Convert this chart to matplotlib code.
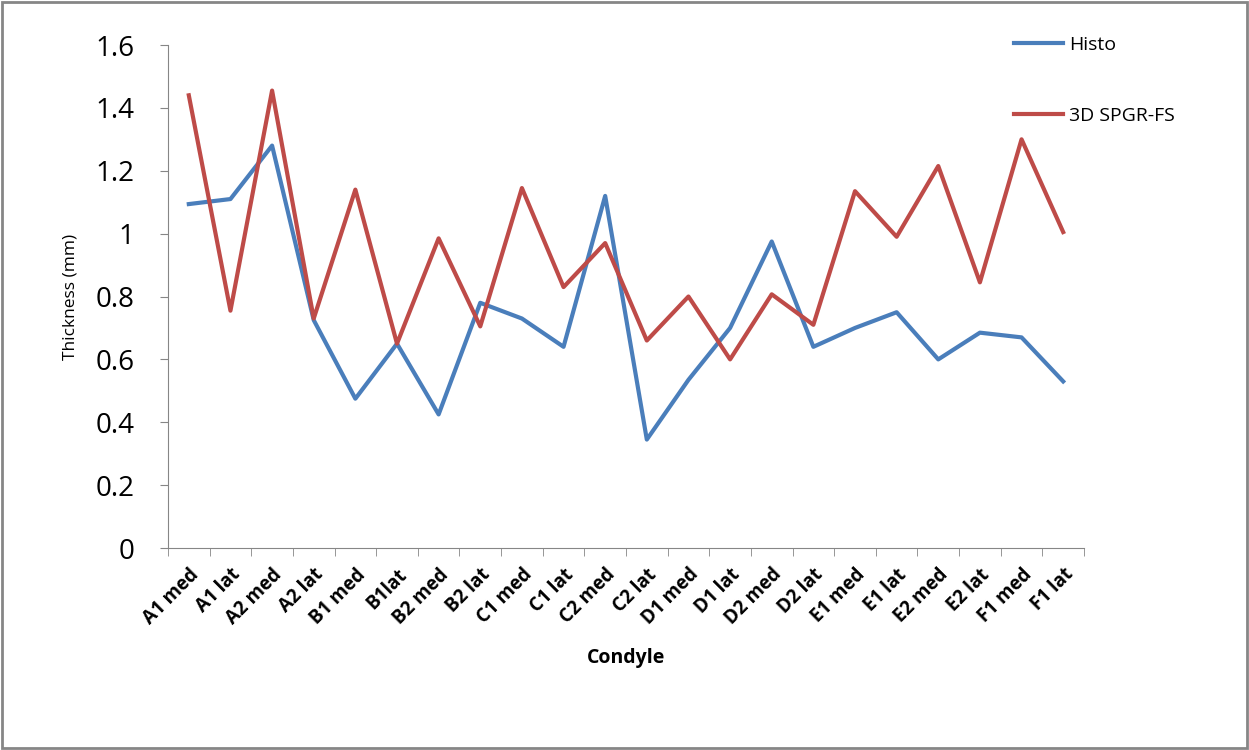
import matplotlib
matplotlib.use("Agg")
import matplotlib.pyplot as plt
from matplotlib.patches import Rectangle

plt.rcParams["font.family"] = ["Open Sans", "DejaVu Sans"]

condyles = ["A1 med", "A1 lat", "A2 med", "A2 lat", "B1 med", "B1lat", "B2 med", "B2 lat",
            "C1 med", "C1 lat", "C2 med", "C2 lat", "D1 med", "D1 lat", "D2 med", "D2 lat",
            "E1 med", "E1 lat", "E2 med", "E2 lat", "F1 med", "F1 lat"]
histo = [1.094, 1.11, 1.28, 0.725, 0.475, 0.65, 0.425, 0.78, 0.73, 0.64, 1.12, 0.345,
         0.535, 0.70, 0.975, 0.64, 0.70, 0.75, 0.60, 0.685, 0.67, 0.53]
spgr = [1.44, 0.755, 1.455, 0.73, 1.14, 0.65, 0.985, 0.705, 1.145, 0.83, 0.97, 0.66,
        0.80, 0.60, 0.807, 0.71, 1.135, 0.99, 1.215, 0.845, 1.30, 1.005]

fig = plt.figure(figsize=(12.49, 7.5), dpi=100)
ax = fig.add_axes([0.1345, 0.2693, 0.7334, 0.6707])

x = range(len(condyles))
ax.plot(x, histo, color="#4a7ebb", lw=3, label="Histo")
ax.plot(x, spgr, color="#be4b48", lw=3, label="3D SPGR-FS")

ax.set_xlim(-0.5, len(condyles) - 0.5)
ax.set_ylim(0, 1.6)
ax.set_yticks([0, 0.2, 0.4, 0.6, 0.8, 1.0, 1.2, 1.4, 1.6])
ax.set_yticklabels(["0", "0.2", "0.4", "0.6", "0.8", "1", "1.2", "1.4", "1.6"], fontsize=20)

ax.set_xticks(list(x))
ax.set_xticklabels(condyles, rotation=45, ha="right", rotation_mode="anchor",
                   fontsize=13.5, fontweight="bold")
ax.set_xticks([i - 0.5 for i in range(len(condyles) + 1)], minor=True)
ax.tick_params(axis="x", which="major", length=0, pad=12)
ax.tick_params(axis="x", which="minor", length=6, color="#868686")
ax.tick_params(axis="y", length=6, color="#868686", direction="out", pad=18)

for s in ["top", "right"]:
    ax.spines[s].set_visible(False)
for s in ["left", "bottom"]:
    ax.spines[s].set_color("#868686")

ax.set_xlabel("Condyle", fontsize=14, fontweight="bold", labelpad=14)
ax.set_ylabel("Thickness (mm)", fontsize=12.5, labelpad=12)

fig.legend(loc="upper left", bbox_to_anchor=(0.798, 0.975), frameon=False,
           fontsize=14, labelspacing=2.7, handlelength=2.5, handletextpad=0.3)

fig.patches.append(Rectangle((0.002, 0.003), 0.996, 0.994, transform=fig.transFigure,
                             fill=False, edgecolor="#868686", lw=2))

fig.savefig("out.png", dpi=100)
